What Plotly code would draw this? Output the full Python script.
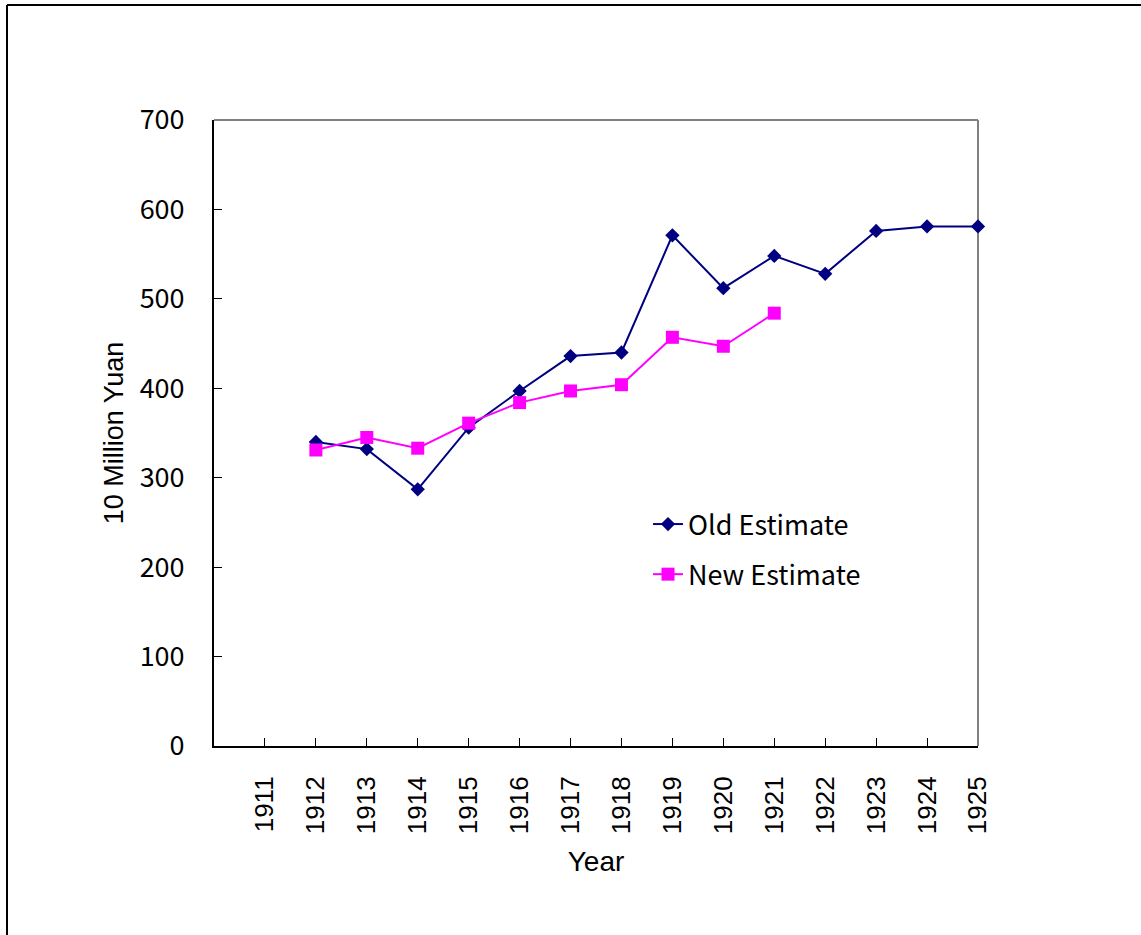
import plotly.graph_objects as go

# Category axis: years
years = [1911, 1912, 1913, 1914, 1915, 1916, 1917, 1918, 1919, 1920,
         1921, 1922, 1923, 1924, 1925]

# Old estimate, 1912-1925 (10 million yuan)
old_years = [1912, 1913, 1914, 1915, 1916, 1917, 1918, 1919, 1920,
             1921, 1922, 1923, 1924, 1925]
old_values = [340, 332, 287, 356, 397, 436, 440, 571, 512,
              548, 528, 576, 581, 581]

# New estimate, 1912-1921
new_years = [1912, 1913, 1914, 1915, 1916, 1917, 1918, 1919, 1920, 1921]
new_values = [331, 345, 333, 361, 384, 397, 404, 457, 447, 484]

y_ticks = [0, 100, 200, 300, 400, 500, 600, 700]

NAVY = "#000080"
MAGENTA = "#FF00FF"
JP_FONT = "Noto Sans CJK JP, Noto Sans, sans-serif"
AR_FONT = "Liberation Sans, Arial, sans-serif"

W, H = 1141, 935
L, R, T, B = 214, 163, 120, 189
PW, PH = W - L - R, H - T - B


def px_x(x):
    return (x - L) / PW


def px_y(y):
    return (H - B - y) / PH


fig = go.Figure()

fig.add_trace(go.Scatter(
    x=old_years, y=old_values, name="Old Estimate", legendgroup="old",
    mode="lines+markers", cliponaxis=False,
    line=dict(color=NAVY, width=2),
    marker=dict(symbol="diamond", size=11, color=NAVY),
))
fig.add_trace(go.Scatter(
    x=new_years, y=new_values, name="New Estimate", legendgroup="new",
    mode="lines+markers", cliponaxis=False,
    line=dict(color=MAGENTA, width=2),
    marker=dict(symbol="square", size=13, color=MAGENTA),
))

shapes = [
    # gray frame on top and right of the plot area
    dict(type="line", xref="paper", yref="paper", x0=0, x1=1, y0=1, y1=1,
         line=dict(color="#808080", width=2), layer="below"),
    dict(type="line", xref="paper", yref="paper", x0=1, x1=1, y0=0, y1=1,
         line=dict(color="#808080", width=2), layer="below"),
    # outer chart border (left and top edges)
    dict(type="line", xref="paper", yref="paper",
         x0=px_x(7), x1=px_x(7), y0=px_y(5), y1=px_y(H + 20),
         line=dict(color="#000000", width=2)),
    dict(type="line", xref="paper", yref="paper",
         x0=px_x(7), x1=px_x(W + 20), y0=px_y(5), y1=px_y(5),
         line=dict(color="#000000", width=2)),
]

fig.update_layout(
    width=W, height=H,
    margin=dict(l=L, r=R, t=T, b=B, pad=0),
    paper_bgcolor="white", plot_bgcolor="white",
    shapes=shapes,
    showlegend=True,
    legend=dict(
        x=px_x(648), y=px_y(500), xanchor="left", yanchor="top",
        font=dict(family=JP_FONT, size=27, color="#000000"),
        bgcolor="rgba(0,0,0,0)", tracegroupgap=12,
        traceorder="grouped",
    ),
    xaxis=dict(
        range=[1910, 1925], tickvals=years, ticktext=[str(y) for y in years],
        tickangle=-90, ticks="inside", ticklen=8, tickcolor="#000000",
        showline=True, linecolor="#000000", linewidth=2,
        showgrid=False, zeroline=False,
        tickfont=dict(family=AR_FONT, size=26, color="#000000"),
        ticklabelstandoff=18,
        title=dict(text="Year", font=dict(family=AR_FONT, size=28, color="#000000"),
                   standoff=18),
    ),
    yaxis=dict(
        range=[0, 700], tickvals=y_ticks,
        ticks="inside", ticklen=8, tickcolor="#000000",
        showline=True, linecolor="#000000", linewidth=2,
        showgrid=False, zeroline=False,
        tickfont=dict(family=JP_FONT, size=27, color="#000000"),
        ticklabelstandoff=22,
        title=dict(text="10 Million Yuan",
                   font=dict(family=AR_FONT, size=27, color="#000000"),
                   standoff=8),
    ),
)

fig.write_html("out.html")
